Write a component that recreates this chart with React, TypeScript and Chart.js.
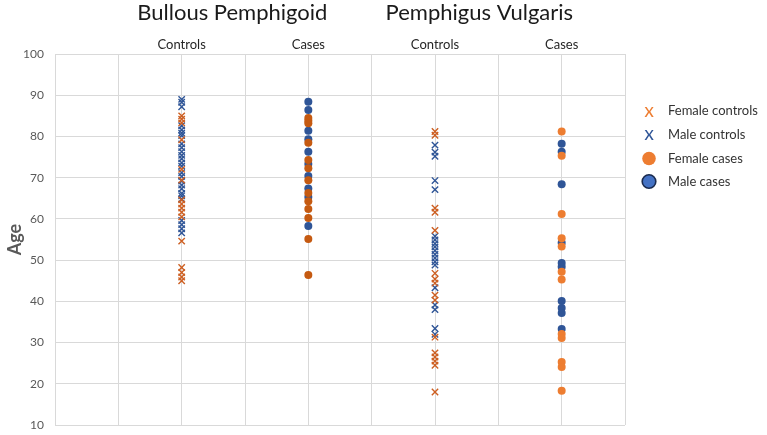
import React, { useEffect, useRef } from "react";
import { Chart, registerables } from "chart.js";

Chart.register(...registerables);

const groupTitles = ["Bullous Pemphigoid", "Pemphigus Vulgaris"];
const groupTitleCenters = [2.8, 6.7];
const columnLabels = ["Controls", "Cases", "Controls", "Cases"];
const columnPositions = [2, 4, 6, 8];
const legendLabels = ["Female controls", "Male controls", "Female cases", "Male cases"];

// Bullous Pemphigoid - controls
const bpControlsFemale = [85, 84.2, 83.3, 79.2, 72, 69.4, 64.6, 63.6, 62.6, 61.6, 60.5, 54.6, 48.2, 47, 45.9, 45];
const bpControlsMale = [89, 88.3, 87.2, 82.6, 81.6, 80.8, 80.2, 78.2, 77.3, 76.3, 75.4, 74.6, 73.6, 72.8, 71.2, 70.3, 69.2, 68.2, 67.3, 66.2, 65.6, 64.8, 59.6, 58.6, 57.6, 56.6];
// Bullous Pemphigoid - cases
const bpCasesFemale = [84.5, 83.8, 83.2, 78.5, 74.3, 72.3, 69.4, 66.3, 64.3, 62.4, 60.2, 55.1, 46.4];
const bpCasesMale = [88.4, 86.4, 81.4, 79.3, 76.3, 73.3, 70.4, 67.4, 65.3, 58.3];
// Pemphigus Vulgaris - controls
const pvControlsFemale = [81.2, 80.3, 62.6, 61.6, 57.2, 46.8, 45.4, 44.4, 41.5, 40.3, 31.3, 27.5, 26.5, 25.5, 24.5, 18];
const pvControlsMale = [77.9, 76.2, 75.2, 69.3, 67.1, 55.8, 54.9, 54, 53.2, 52.3, 51.4, 50.5, 49.6, 48.8, 43.3, 39.1, 38, 33.4, 32];
// Pemphigus Vulgaris - cases
const pvCasesFemale = [81.2, 75.3, 61.2, 55.3, 53.3, 47.2, 45.3, 32.1, 31.1, 25.3, 24.1, 18.3];
const pvCasesMale = [78.2, 76.3, 68.4, 54.2, 49.3, 48.4, 40.1, 38.4, 37.2, 33.3];

const ORANGE_X = "#CD5F22";
const BLUE_X = "#2F5597";
const ORANGE_DARK = "#C55A11";
const ORANGE_LIGHT = "#ED7D31";
const BLUE_DOT = "#2F5597";
const FONT = "Lato, 'Liberation Sans', sans-serif";

const toPoints = (ages: number[], col: number) => ages.map((y) => ({ x: columnPositions[col], y }));

const xDataset = (ages: number[], col: number, color: string) => ({
  data: toPoints(ages, col),
  pointStyle: "crossRot",
  pointRadius: 4.5,
  borderColor: color,
  backgroundColor: color,
  pointBorderWidth: 1.4,
  borderWidth: 1.4,
});

const dotDataset = (ages: number[], col: number, color: string) => ({
  data: toPoints(ages, col),
  pointStyle: "circle",
  pointRadius: 4,
  borderColor: color,
  backgroundColor: color,
  borderWidth: 0,
});

const overlayPlugin = {
  id: "overlay",
  afterDraw(chart: any) {
    const { ctx, chartArea } = chart;
    const xs = chart.scales.x;
    ctx.save();
    // group titles
    ctx.fillStyle = "#1a1a1a";
    ctx.font = `22px ${FONT}`;
    ctx.textAlign = "center";
    ctx.textBaseline = "alphabetic";
    groupTitles.forEach((t, i) => {
      ctx.fillText(t, xs.getPixelForValue(groupTitleCenters[i]), 20);
    });
    // legend
    const mx = chartArea.right + 24;
    const tx = chartArea.right + 43;
    const rows = [111, 134.5, 158.5, 181.5];
    legendLabels.forEach((label, i) => {
      const y = rows[i];
      if (i < 2) {
        ctx.fillStyle = i === 0 ? ORANGE_LIGHT : BLUE_X;
        ctx.font = `600 14px ${FONT}`;
        ctx.textAlign = "center";
        ctx.textBaseline = "middle";
        ctx.fillText("X", mx, y + 1);
      } else {
        ctx.beginPath();
        ctx.arc(mx, y, 6.8, 0, Math.PI * 2);
        ctx.fillStyle = i === 2 ? ORANGE_LIGHT : "#4472C4";
        ctx.fill();
        if (i === 3) {
          ctx.lineWidth = 1.6;
          ctx.strokeStyle = "#1a2b4f";
          ctx.stroke();
        }
      }
      ctx.fillStyle = "#333333";
      ctx.font = `13px ${FONT}`;
      ctx.textAlign = "left";
      ctx.textBaseline = "middle";
      ctx.fillText(label, tx, y);
    });
    ctx.restore();
  },
};

export default function App() {
  const ref = useRef<HTMLCanvasElement | null>(null);

  useEffect(() => {
    document.body.style.margin = "0";
    if (!ref.current) return;
    const chart = new Chart(ref.current, {
      type: "scatter",
      data: {
        datasets: [
          xDataset(bpControlsFemale, 0, ORANGE_X),
          xDataset(bpControlsMale, 0, BLUE_X),
          dotDataset(bpCasesFemale, 1, ORANGE_DARK),
          dotDataset(bpCasesMale, 1, BLUE_DOT),
          xDataset(pvControlsFemale, 2, ORANGE_X),
          xDataset(pvControlsMale, 2, BLUE_X),
          dotDataset(pvCasesFemale, 3, ORANGE_LIGHT),
          dotDataset(pvCasesMale, 3, BLUE_DOT),
        ] as any,
      },
      options: {
        animation: false,
        responsive: false,
        layout: { padding: { top: 0, right: 142, bottom: 10, left: 0 } },
        plugins: {
          legend: { display: false },
          tooltip: { enabled: false },
        },
        scales: {
          x: {
            type: "linear",
            position: "top",
            min: 0,
            max: 9,
            afterFit: (s: any) => {
              s.height = 54;
            },
            grid: { color: "#D9D9D9", drawTicks: false, lineWidth: 1 },
            border: { display: false },
            ticks: {
              stepSize: 1,
              autoSkip: false,
              maxRotation: 0,
              padding: 1,
              color: "#262626",
              font: { family: FONT, size: 13 },
              callback: (v: any) => {
                const idx = columnPositions.indexOf(Number(v));
                return idx >= 0 ? columnLabels[idx] : "";
              },
            },
          },
          y: {
            min: 10,
            max: 100,
            afterFit: (s: any) => {
              s.width = 55;
              s.paddingBottom = 0;
              s.paddingTop = 0;
            },
            grid: { color: "#D9D9D9", drawTicks: false, lineWidth: 1 },
            border: { display: false },
            ticks: {
              stepSize: 10,
              padding: 11,
              color: "#595959",
              font: { family: FONT, size: 12 },
            },
            title: {
              display: true,
              text: "Age",
              color: "#595959",
              font: { family: FONT, size: 18, weight: "bold" },
              padding: { top: 4, bottom: 0 },
            },
          },
        },
      } as any,
      plugins: [overlayPlugin],
    });
    return () => chart.destroy();
  }, []);

  return (
    <div style={{ width: 767, height: 435, position: "relative", background: "#fff" }}>
      <canvas ref={ref} width={767} height={435} />
    </div>
  );
}
